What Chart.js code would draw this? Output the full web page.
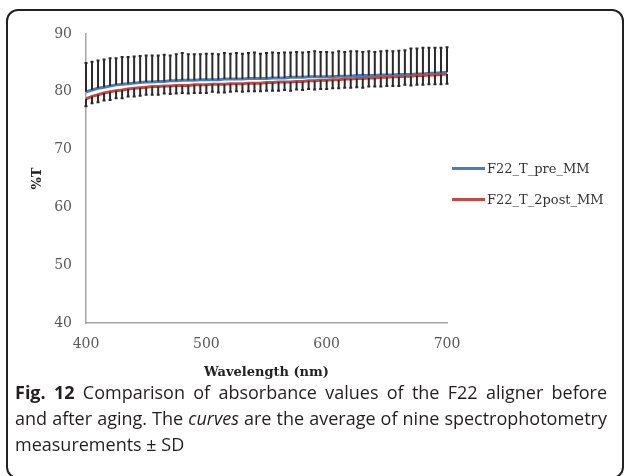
<!DOCTYPE html>
<html>
<head>
<meta charset="utf-8">
<script src="https://cdn.jsdelivr.net/npm/chart.js@4.4.0/dist/chart.umd.min.js"></script>
<style>
  body { margin: 0; background: #fff; width: 624px; height: 476px; overflow: hidden; position: relative; }
  #frame { position: absolute; left: 6px; top: 9px; width: 614px; height: 466px; border: 2px solid #222; border-radius: 12px; }
  #wrap { position: absolute; left: 8px; top: 12px; width: 470px; height: 372px; }
  #legend { position: absolute; left: 452px; top: 153px; font-family: "DejaVu Serif", serif; font-size: 13px; color: #333; }
  #legend div { height: 31px; display: flex; align-items: center; }
  #legend span.sw { display: inline-block; width: 33px; height: 3px; margin-right: 2px; }
  #caption { position: absolute; left: 15px; top: 379px; width: 592px; font-family: "Open Sans", sans-serif; font-size: 18px; line-height: 26px; color: #231f20; white-space: nowrap; }
  #caption .j { text-align: justify; text-align-last: justify; }
</style>
</head>
<body>
<div id="frame"></div>
<div id="wrap"><canvas id="chart"></canvas></div>
<div id="legend"></div>
<div id="caption">
  <div class="j"><b>Fig. 12</b> Comparison of absorbance values of the F22 aligner before</div>
  <div class="j">and after aging. The <i>curves</i> are the average of nine spectrophotometry</div>
  <div>measurements ± SD</div>
</div>
<script>
let wavelengths = [400, 405, 410, 415, 420, 425, 430, 435, 440, 445, 450, 455, 460, 465, 470, 475, 480, 485, 490, 495,
  500, 505, 510, 515, 520, 525, 530, 535, 540, 545, 550, 555, 560, 565, 570, 575, 580, 585, 590, 595,
  600, 605, 610, 615, 620, 625, 630, 635, 640, 645, 650, 655, 660, 665, 670, 675, 680, 685, 690, 695, 700];

// mean %T, before aging
let preMM = [80.0, 80.3, 80.6, 80.8, 81.0, 81.2, 81.3, 81.4, 81.5, 81.6, 81.7, 81.7, 81.8, 81.8, 81.9, 81.9, 82.0, 82.0, 82.0, 82.1,
  82.1, 82.1, 82.1, 82.2, 82.2, 82.2, 82.2, 82.3, 82.3, 82.3, 82.3, 82.4, 82.4, 82.4, 82.5, 82.5, 82.5, 82.6, 82.6, 82.6,
  82.6, 82.6, 82.7, 82.7, 82.7, 82.8, 82.8, 82.8, 82.8, 82.9, 82.9, 82.9, 83.0, 83.0, 83.0, 83.1, 83.1, 83.2, 83.2, 83.3, 83.4];
// mean %T, after aging
let postMM = [78.8, 79.2, 79.5, 79.8, 80.0, 80.2, 80.3, 80.5, 80.6, 80.7, 80.8, 80.9, 80.9, 81.0, 81.0, 81.1, 81.1, 81.1, 81.2, 81.2,
  81.2, 81.3, 81.3, 81.3, 81.4, 81.4, 81.4, 81.5, 81.5, 81.5, 81.6, 81.6, 81.7, 81.7, 81.7, 81.8, 81.8, 81.9, 81.9, 82.0,
  82.0, 82.1, 82.1, 82.2, 82.2, 82.3, 82.3, 82.4, 82.4, 82.5, 82.5, 82.6, 82.6, 82.7, 82.7, 82.8, 82.8, 82.9, 82.9, 83.0, 83.1];

// SD shown as plus bars on the pre series and minus bars on the post series
let preSD = [5.0, 4.9, 4.8, 4.8, 4.8, 4.6, 4.7, 4.6, 4.6, 4.6, 4.6, 4.6, 4.5, 4.6, 4.4, 4.6, 4.7, 4.5, 4.5, 4.4,
  4.5, 4.5, 4.4, 4.5, 4.4, 4.5, 4.4, 4.4, 4.5, 4.3, 4.4, 4.4, 4.3, 4.4, 4.3, 4.4, 4.3, 4.3, 4.4, 4.3,
  4.3, 4.2, 4.3, 4.2, 4.3, 4.2, 4.1, 4.2, 4.1, 4.1, 4.2, 4.1, 4.1, 4.2, 4.5, 4.4, 4.5, 4.4, 4.4, 4.3, 4.3];
let postSD = [1.3, 1.2, 1.3, 1.3, 1.4, 1.3, 1.4, 1.3, 1.4, 1.4, 1.3, 1.4, 1.4, 1.3, 1.4, 1.4, 1.3, 1.4, 1.4, 1.4,
  1.4, 1.3, 1.4, 1.4, 1.4, 1.3, 1.4, 1.4, 1.4, 1.4, 1.4, 1.4, 1.5, 1.4, 1.5, 1.4, 1.5, 1.4, 1.5, 1.5,
  1.5, 1.5, 1.5, 1.5, 1.5, 1.5, 1.6, 1.5, 1.5, 1.6, 1.5, 1.6, 1.6, 1.5, 1.6, 1.6, 1.6, 1.6, 1.6, 1.7, 1.7];

let seriesNames = ['F22_T_pre_MM', 'F22_T_2post_MM'];
let seriesColors = ['#4a7ebb', '#be4b48'];
let yTicks = [40, 50, 60, 70, 80, 90];
let xTicks = [400, 500, 600, 700];

function points(vals) {
  return vals.map((v, i) => ({ x: wavelengths[i], y: v }));
}

// draws the SD bars through the chart scales
const errorBars = {
  id: 'errorBars',
  afterDatasetsDraw(chart) {
    const ctx = chart.ctx;
    const xs = chart.scales.x, ys = chart.scales.y;
    ctx.save();
    ctx.strokeStyle = '#2a2a2a';
    ctx.lineWidth = 2;
    chart.data.datasets.forEach(ds => {
      ds.sd.forEach((s, i) => {
        const x = xs.getPixelForValue(wavelengths[i]);
        const y0 = ys.getPixelForValue(ds.data[i].y);
        const y1 = ys.getPixelForValue(ds.data[i].y + ds.dir * s);
        ctx.beginPath();
        ctx.moveTo(x, y0);
        ctx.lineTo(x, y1);
        ctx.moveTo(x - 1.5, y1);
        ctx.lineTo(x + 1.5, y1);
        ctx.stroke();
      });
    });
    ctx.restore();
  }
};

const serif = '"DejaVu Serif", serif';

let chartDraw = new Chart(document.getElementById('chart'), {
  type: 'line',
  data: {
    datasets: [
      { label: seriesNames[0], data: points(preMM), sd: preSD, dir: 1, borderColor: seriesColors[0], backgroundColor: seriesColors[0], borderWidth: 3, pointRadius: 0, order: 1 },
      { label: seriesNames[1], data: points(postMM), sd: postSD, dir: -1, borderColor: seriesColors[1], backgroundColor: seriesColors[1], borderWidth: 3, pointRadius: 0, order: 0 }
    ]
  },
  options: {
    responsive: true,
    maintainAspectRatio: false,
    animation: false,
    layout: { padding: { top: 22, right: 31, bottom: 0, left: 0 } },
    plugins: { legend: { display: false }, tooltip: { enabled: false } },
    scales: {
      x: {
        type: 'linear', min: 400, max: 700,
        afterBuildTicks: s => { s.ticks = xTicks.map(v => ({ value: v })); },
        afterFit: s => { s.height = 61; },
        grid: { display: false },
        border: { display: true, color: '#a6a6a6', width: 1.5 },
        ticks: { color: '#595959', font: { family: serif, size: 14 }, padding: 5 },
        title: { display: true, text: 'Wavelength (nm)', color: '#222', font: { family: serif, size: 13, weight: 'bold' }, padding: { top: 6 } }
      },
      y: {
        min: 40, max: 90,
        afterBuildTicks: s => { s.ticks = yTicks.map(v => ({ value: v })); },
        afterFit: s => { s.width = 78; },
        grid: { display: false },
        border: { display: true, color: '#a6a6a6', width: 1.5 },
        ticks: { color: '#595959', font: { family: serif, size: 14 }, padding: 6 },
        title: { display: true, text: '%T', color: '#222', font: { family: serif, size: 13, weight: 'bold' }, padding: { top: 22, bottom: 0 } }
      }
    }
  },
  plugins: [errorBars]
});

// html legend built from the chart's datasets
let legendHtml = '';
chartDraw.data.datasets.forEach(ds => {
  legendHtml += `<div><span class="sw" style="background:${ds.borderColor}"></span>${ds.label}</div>`;
});
document.getElementById('legend').innerHTML = legendHtml;
</script>
</body>
</html>
